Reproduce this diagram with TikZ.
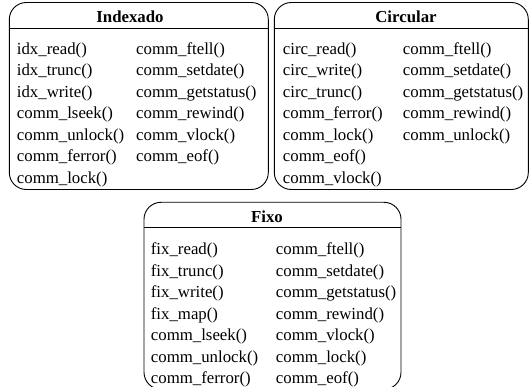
\documentclass[tikz,border=0pt]{standalone}
\usepackage{fontspec}
\setmainfont{Liberation Serif}
\begin{document}
\begin{tikzpicture}[x=1pt,y=-1pt,
  box/.style={draw,line width=0.9pt,rounded corners=17pt,inner sep=0pt},
  rule/.style={line width=0.9pt},
  fn/.style={anchor=base west,inner sep=0pt,font=\fontsize{16.8}{20}\selectfont},
  ttl/.style={anchor=base,inner sep=0pt,font=\fontsize{16.8}{20}\selectfont\bfseries}]
\useasboundingbox (0,0) rectangle (529,387);
\clip (0,0) rectangle (529,387);

% boxes
\node[box,minimum width=259pt,minimum height=187pt] (idx) at (138.8,96) {};
\node[box,minimum width=254pt,minimum height=187pt] (circ) at (401.3,96) {};
\node[box,minimum width=257pt,minimum height=187pt] (fix) at (272.5,295.8) {};

% header rules
\coordinate (idxh) at (0,28.3);
\coordinate (circh) at (0,28.3);
\coordinate (fixh) at (0,227.3);
\draw[rule] (idx.west |- idxh) -- (idx.east |- idxh);
\draw[rule] (circ.west |- circh) -- (circ.east |- circh);
\draw[rule] (fix.west |- fixh) -- (fix.east |- fixh);

% titles
\node[ttl] (tidx) at (130,22.7) {Indexado};
\node[ttl] (tcirc) at (406,22.7) {Circular};
\node[ttl] (tfix) at (267,222.7) {Fixo};

% Indexado
\node[fn] (i11) at (16.7,54.5) {idx\_read()};
\node[fn] (i12) at (16.7,76.0) {idx\_trunc()};
\node[fn] (i13) at (16.7,97.5) {idx\_write()};
\node[fn] (i14) at (16.7,119.0) {comm\_lseek()};
\node[fn] (i15) at (16.7,140.5) {comm\_unlock()};
\node[fn] (i16) at (16.7,162.0) {comm\_ferror()};
\node[fn] (i17) at (16.7,183.5) {comm\_lock()};
\node[fn] (i21) at (136,54.5) {comm\_ftell()};
\node[fn] (i22) at (136,76.0) {comm\_setdate()};
\node[fn] (i23) at (136,97.5) {comm\_getstatus()};
\node[fn] (i24) at (136,119.0) {comm\_rewind()};
\node[fn] (i25) at (136,140.5) {comm\_vlock()};
\node[fn] (i26) at (136,162.0) {comm\_eof()};

% Circular
\node[fn] (c11) at (282.7,54.5) {circ\_read()};
\node[fn] (c12) at (282.7,76.0) {circ\_write()};
\node[fn] (c13) at (282.7,97.5) {circ\_trunc()};
\node[fn] (c14) at (282.7,119.0) {comm\_ferror()};
\node[fn] (c15) at (282.7,140.5) {comm\_lock()};
\node[fn] (c16) at (282.7,162.0) {comm\_eof()};
\node[fn] (c17) at (282.7,183.5) {comm\_vlock()};
\node[fn] (c21) at (402.7,54.5) {comm\_ftell()};
\node[fn] (c22) at (402.7,76.0) {comm\_setdate()};
\node[fn] (c23) at (402.7,97.5) {comm\_getstatus()};
\node[fn] (c24) at (402.7,119.0) {comm\_rewind()};
\node[fn] (c25) at (402.7,140.5) {comm\_unlock()};

% Fixo
\node[fn] (f11) at (150.7,254.5) {fix\_read()};
\node[fn] (f12) at (150.7,276.0) {fix\_trunc()};
\node[fn] (f13) at (150.7,297.5) {fix\_write()};
\node[fn] (f14) at (150.7,319.0) {fix\_map()};
\node[fn] (f15) at (150.7,340.5) {comm\_lseek()};
\node[fn] (f16) at (150.7,362.0) {comm\_unlock()};
\node[fn] (f17) at (150.7,383.5) {comm\_ferror()};
\node[fn] (f21) at (275.7,254.5) {comm\_ftell()};
\node[fn] (f22) at (275.7,276.0) {comm\_setdate()};
\node[fn] (f23) at (275.7,297.5) {comm\_getstatus()};
\node[fn] (f24) at (275.7,319.0) {comm\_rewind()};
\node[fn] (f25) at (275.7,340.5) {comm\_vlock()};
\node[fn] (f26) at (275.7,362.0) {comm\_lock()};
\node[fn] (f27) at (275.7,383.5) {comm\_eof()};
\end{tikzpicture}
\end{document}
